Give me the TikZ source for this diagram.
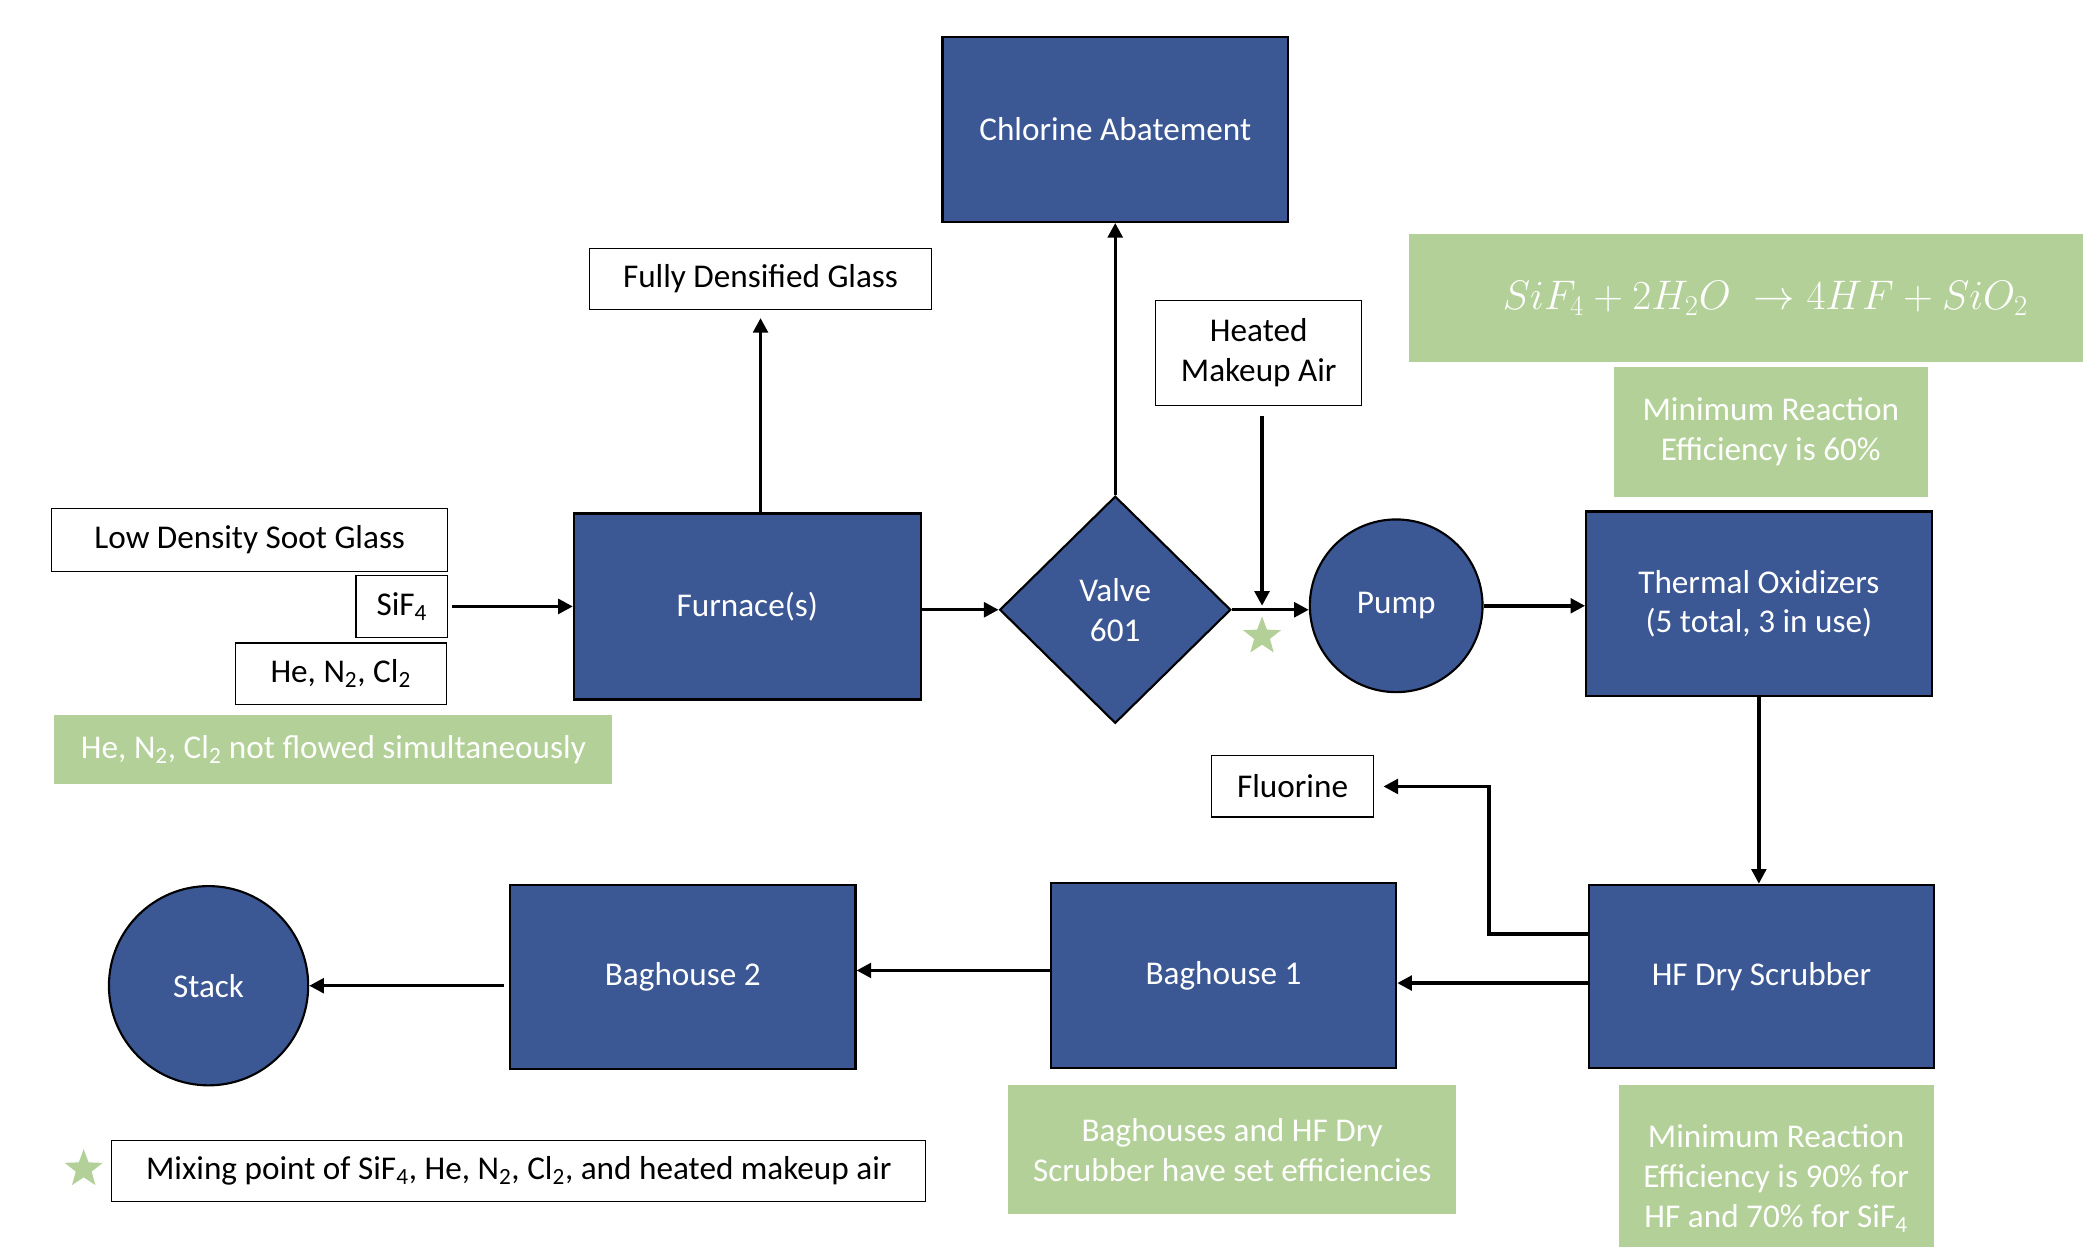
\documentclass[tikz,border=0pt]{standalone}
\usepackage{fontspec}
\setmainfont{Carlito}
\usetikzlibrary{shapes.geometric,arrows.meta}
\definecolor{procblue}{RGB}{59,87,148}
\definecolor{notegreen}{RGB}{178,208,151}

\begin{document}
\begin{tikzpicture}[x=1pt,y=-1pt,
    font=\fontsize{25}{30}\selectfont,
    unit/.style={draw=black, line width=1.6pt, fill=procblue, text=white, inner sep=0pt, align=center},
    box/.style={rectangle, minimum width=260pt, minimum height=139pt},
    stream/.style={draw=black, line width=0.8pt, fill=white, inner sep=0pt, align=center},
    note/.style={fill=notegreen, text=white, inner sep=0pt, align=center},
    flow/.style={line width=2.6pt, -{Triangle[length=11pt,width=11pt]}},
    mixstar/.style={star, star points=5, star point ratio=2.4, fill=notegreen, inner sep=0pt, minimum size=30pt}]
      \useasboundingbox (0,0) rectangle (1568,938);

      % top row
      \node[unit, box] (chlorine) at (839.5, 97.5) {Chlorine Abatement};
      \node[stream, minimum width=257pt, minimum height=46pt] (glass) at (572.5, 210) {Fully Densified Glass};
      \node[stream, minimum width=155pt, minimum height=79pt] (makeup) at (947.5, 265.5) {Heated\\Makeup Air};
      \node[note, minimum width=536pt, minimum height=96pt] (eqn) at (1329, 224.5)
        {\scalebox{1.25}{$SiF_4 + 2H_2O \;\rightarrow 4HF + SiO_2$}};
      \node[note, minimum width=236pt, minimum height=98pt] (eff60) at (1333, 325) {Minimum Reaction\\Efficiency is 60\%};

      % inlet streams
      \node[stream, minimum width=298pt, minimum height=47pt] (soot) at (188, 406.5) {Low Density Soot Glass};
      \node[stream, minimum width=69pt, minimum height=47pt] (sif) at (302.5, 456.5) {SiF\textsubscript{4}};
      \node[stream, minimum width=159pt, minimum height=46pt] (gases) at (256.5, 507) {He, N\textsubscript{2}, Cl\textsubscript{2}};
      \node[note, minimum width=420pt, minimum height=52pt] (gasnote) at (251, 564) {He, N\textsubscript{2}, Cl\textsubscript{2} not flowed simultaneously};

      % main row
      \node[unit, box, minimum width=261pt, minimum height=140pt] (furnace) at (562.5, 456.5) {Furnace(s)};
      \node[unit, diamond, aspect=1, minimum width=174pt, minimum height=171pt] (valve) at (839.5, 459) {Valve\\601};
      \node[unit, circle, minimum size=130pt] (pump) at (1051, 456) {Pump};
      \node[unit, box] (oxidizer) at (1324, 454.5) {Thermal Oxidizers\\(5 total, 3 in use)};
      \node[mixstar] (mixpt) at (950, 479) {};
      \coordinate (mix) at (950, 456);

      % bottom row
      \node[unit, box, minimum height=138pt] (scrubber) at (1326, 735) {HF Dry Scrubber};
      \node[stream, minimum width=122pt, minimum height=46pt] (fluorine) at (973, 592) {Fluorine};
      \coordinate (fbend) at (1121, 592);
      \node[unit, box] (bag1) at (921, 734.5) {Baghouse 1};
      \node[unit, box] (bag2) at (514, 735.5) {Baghouse 2};
      \node[unit, circle, minimum size=150pt] (stack) at (157, 742) {Stack};

      % notes and key
      \node[note, minimum width=337pt, minimum height=97pt] (bagnote) at (927.5, 865.5) {Baghouses and HF Dry\\Scrubber have set efficiencies};
      \node[note, minimum width=237pt, minimum height=140pt] (eff90) at (1337, 887) {Minimum Reaction\\Efficiency is 90\% for\\HF and 70\% for SiF\textsubscript{4}};
      \node[mixstar] (keystar) at (63, 880) {};
      \node[stream, minimum width=613pt, minimum height=46pt] (key) at (390.5, 881.5) {Mixing point of SiF\textsubscript{4}, He, N\textsubscript{2}, Cl\textsubscript{2}, and heated makeup air};

      \draw[flow] ([xshift=3pt]sif.east) -- (sif.east -| furnace.west);
      \draw[flow] (furnace.north -| glass) -- ([yshift=-6pt]glass.south);
      \draw[flow] (furnace.east |- valve) -- (valve.west);
      \draw[flow] (valve.north) -- (chlorine.south);
      \draw[flow] (valve.east) -- (valve.east -| pump.west);
      \draw[flow] ([yshift=-8pt]makeup.south -| mix) -- (mix);
      \draw[flow] (pump.east) -- (pump.east -| oxidizer.west);
      \draw[flow] (oxidizer.south) -- (oxidizer.south |- scrubber.north);
      \draw[flow] ([yshift=32pt]scrubber.west) -| (fbend) -- ([xshift=7pt]fluorine.east);
      \draw[flow] ([yshift=-5pt]scrubber.west) -- ([yshift=-5pt]scrubber.west -| bag1.east);
      \draw[flow] ([yshift=4pt]bag1.west) -- ([yshift=4pt]bag1.west -| bag2.east);
      \draw[flow] ([xshift=-4pt]bag2.west |- stack.east) -- (stack.east);
    \end{tikzpicture}
\end{document}
